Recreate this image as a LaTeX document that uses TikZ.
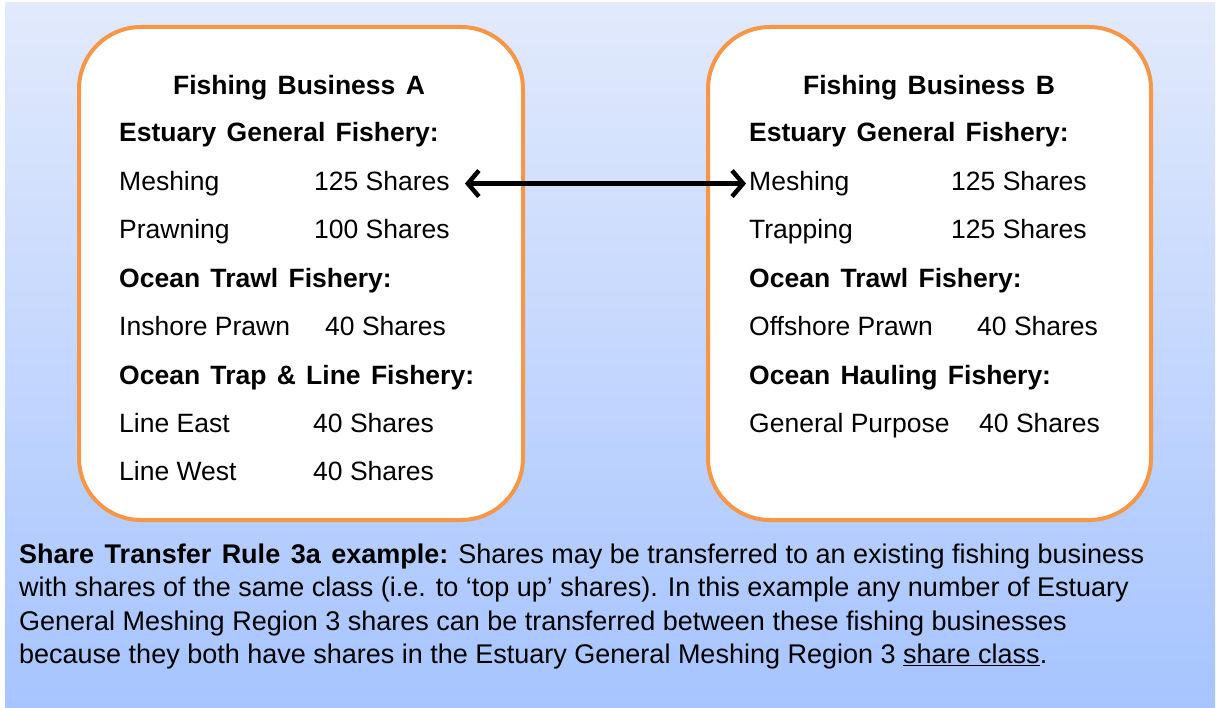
\documentclass[tikz,border=0pt]{standalone}
\usepackage{fontspec}
\setmainfont{Liberation Sans}[BoldFeatures={WordSpace=1.4}]
\usetikzlibrary{arrows.meta}
\definecolor{bizorange}{RGB}{247,150,70}
\definecolor{bgtop}{RGB}{226,234,252}
\definecolor{bgbot}{RGB}{166,196,255}
\begin{document}
\begin{tikzpicture}[x=1pt,y=-1pt,
  biz/.style={draw=bizorange,line width=4pt,fill=white,rounded corners=62pt},
  txt/.style={anchor=base west,inner sep=0pt,font=\fontsize{26.5}{30}\selectfont},
  hdr/.style={txt,font=\fontsize{26.5}{30}\selectfont\bfseries},
  bizname/.style={hdr,anchor=base},
  note/.style={anchor=base west,inner sep=0pt,font=\fontsize{27}{32}\selectfont},
  link/.style={line width=4.5pt,{Straight Barb[length=11pt,width=26pt]}-{Straight Barb[length=11pt,width=26pt]}}]
  \path[use as bounding box,fill=white] (0,0) rectangle (1220,708);
  \fill[top color=bgtop,bottom color=bgbot] (5,3) rectangle (1215,708);
  \draw[biz] (79,27) rectangle (523,520);
  \draw[biz] (708,27) rectangle (1151,520);

  % Fishing Business A
  \node[bizname] (aName) at (299,95) {Fishing Business A};
  \node[hdr] (aEst) at (119,142) {Estuary General Fishery:};
  \node[txt] (aMesh) at (119,190.4) {Meshing};
  \node[txt] (aMeshN) at (314,190.4) {125 Shares};
  \node[txt] (aPrawn) at (119,238.8) {Prawning};
  \node[txt] (aPrawnN) at (314,238.8) {100 Shares};
  \node[hdr] (aTrawl) at (119,287.2) {Ocean Trawl Fishery:};
  \node[txt] (aInsh) at (119,335.6) {Inshore Prawn};
  \node[txt] (aInshN) at (325,335.6) {40 Shares};
  \node[hdr] (aTrap) at (119,384) {Ocean Trap \& Line Fishery:};
  \node[txt] (aEast) at (119,432.4) {Line East};
  \node[txt] (aEastN) at (313,432.4) {40 Shares};
  \node[txt] (aWest) at (119,480.8) {Line West};
  \node[txt] (aWestN) at (313,480.8) {40 Shares};

  % Fishing Business B
  \node[bizname] (bName) at (929,95) {Fishing Business B};
  \node[hdr] (bEst) at (749,142) {Estuary General Fishery:};
  \node[txt] (bMesh) at (749,190.4) {Meshing};
  \node[txt] (bMeshN) at (951,190.4) {125 Shares};
  \node[txt] (bTrap) at (749,238.8) {Trapping};
  \node[txt] (bTrapN) at (951,238.8) {125 Shares};
  \node[hdr] (bTrawl) at (749,287.2) {Ocean Trawl Fishery:};
  \node[txt] (bOffs) at (749,335.6) {Offshore Prawn};
  \node[txt] (bOffsN) at (977,335.6) {40 Shares};
  \node[hdr] (bHaul) at (749,384) {Ocean Hauling Fishery:};
  \node[txt] (bGen) at (749,432.4) {General Purpose};
  \node[txt] (bGenN) at (979,432.4) {40 Shares};

  \draw[link] ([xshift=15pt]aMeshN.east |- bMesh.west) -- ([xshift=-3pt]bMesh.west);

  % rule text
  \node[note] (rule1) at (19,563) {\textbf{Share Transfer Rule 3a example:} Shares may be transferred to an existing fishing business};
  \node[note] (rule2) at (19,596.5) {with shares of the same class (i.e. to `top up' shares). In this example any number of Estuary};
  \node[note] (rule3) at (19,630) {General Meshing Region 3 shares can be transferred between these fishing businesses};
  \node[note] (rule4) at (19,663.5) {because they both have shares in the Estuary General Meshing Region 3 \underline{share class}.};
\end{tikzpicture}
\end{document}
